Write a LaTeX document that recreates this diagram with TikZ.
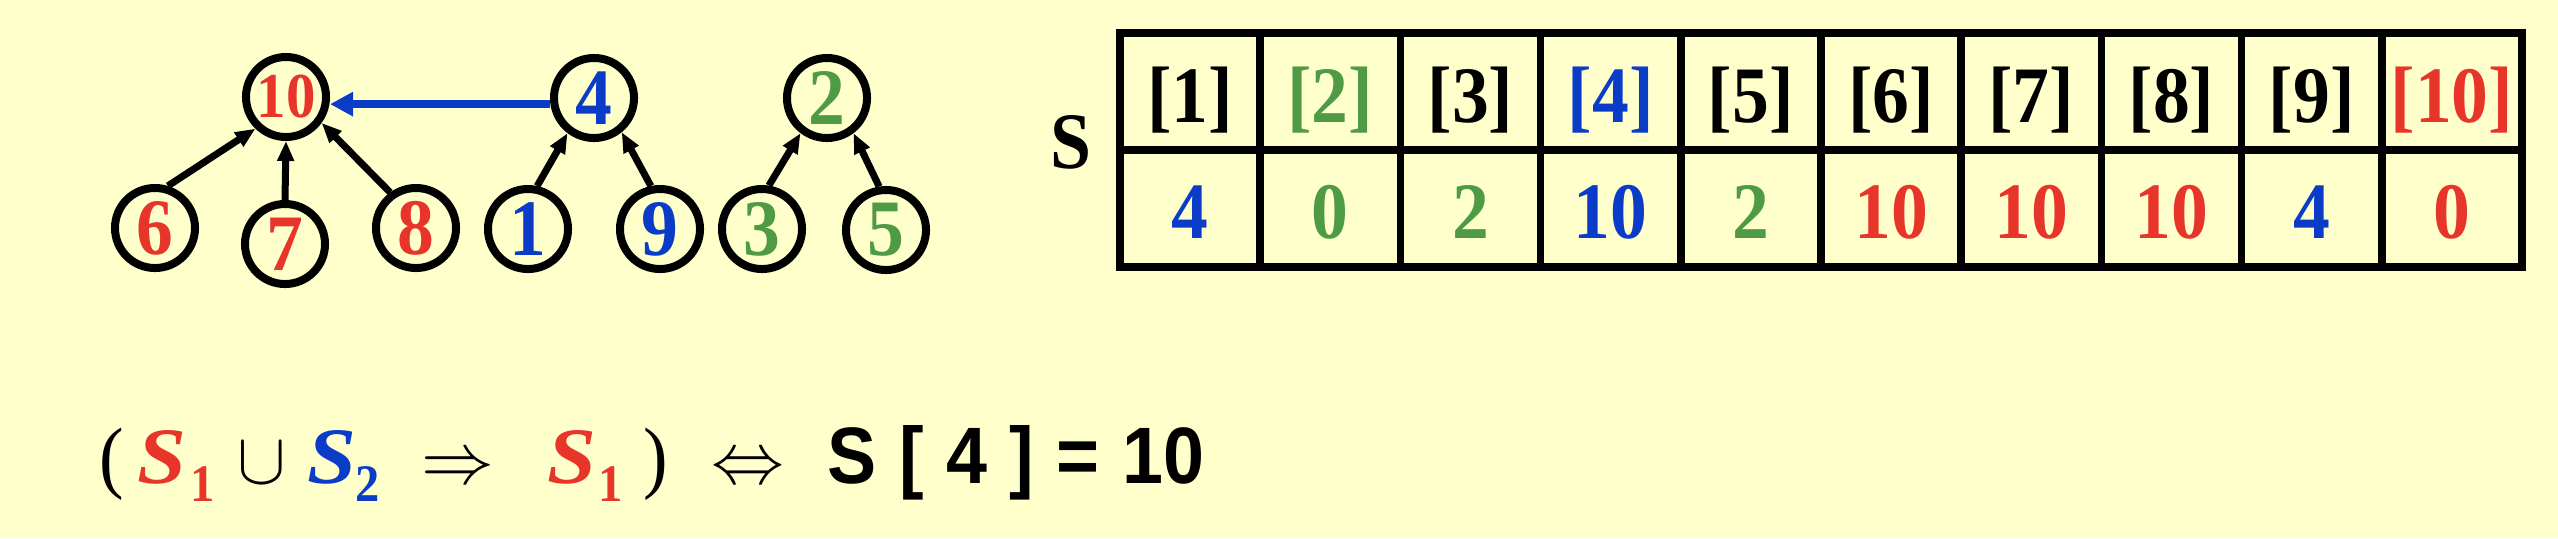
\documentclass[tikz,border=0pt]{standalone}
\usepackage{fontspec}
\setmainfont[FakeStretch=0.92]{Liberation Serif}
\setsansfont[FakeStretch=0.92, WordSpace=1.1]{Liberation Sans}
\newfontfamily\wideserif[FakeStretch=1.1]{Liberation Serif}
\usetikzlibrary{arrows.meta}
\definecolor{bg}{HTML}{FFFFCC}
\definecolor{myred}{HTML}{E8352A}
\definecolor{myblue}{HTML}{0A3CC8}
\definecolor{mygreen}{HTML}{4F9A44}
\newcommand\bigfont{\fontsize{22.76}{27}\selectfont}
\newcommand\subfont{\fontsize{15}{18}\selectfont}
\begin{document}
\begin{tikzpicture}[x=0.01cm,y=-0.01cm,
  tnode/.style={circle, draw, line width=0.08cm, minimum size=0.8cm, inner sep=0pt, font=\bigfont\bfseries},
  tedge/.style={line width=0.07cm, -{Triangle[length=0.2cm,width=0.16cm]}},
  merge/.style={myblue, line width=0.08cm, -{Triangle[length=0.23cm,width=0.23cm]}},
  cell/.style={inner sep=0pt, anchor=base, font=\bigfont\bfseries},
  grid/.style={line width=0.075cm},
  ftext/.style={inner sep=0pt, anchor=base west, font=\bigfont},
  setname/.style={ftext, font=\bigfont\wideserif\bfseries\itshape},
  subidx/.style={ftext, font=\subfont\bfseries}
]
\useasboundingbox (0,0) rectangle (2558,538);
\fill[bg] (0,0) rectangle (2558,538);

% trees
\node[tnode, text=myred, font=\fontsize{18.2}{22}\selectfont\bfseries] (n10) at (286,97) {10};
\node[tnode, text=myblue] (n4) at (594,98) {4};
\node[tnode, text=mygreen] (n2) at (827,98) {2};
\node[tnode, text=myred] (n6) at (155,228) {6};
\node[tnode, text=myred] (n7) at (285,244) {7};
\node[tnode, text=myred] (n8) at (416,228) {8};
\node[tnode, text=myblue] (n1) at (528,229) {1};
\node[tnode, text=myblue] (n9) at (660,229) {9};
\node[tnode, text=mygreen] (n3) at (762,229) {3};
\node[tnode, text=mygreen] (n5) at (886,230) {5};

\draw[tedge] (n6.73) -- (n10.226);
\draw[tedge] (n7.north) -- (n10.south);
\draw[tedge] (n8.126) -- (n10.-36);
\draw[tedge] (n1.78) -- (n4.233);
\draw[tedge] (n9.102) -- (n4.309);
\draw[tedge] (n3.81) -- (n2.233);
\draw[tedge] (n5.99) -- (n2.307);
\draw[merge] (n4.188) -- (n10.east |- n4.188);

% table
\node[cell] (slabel) at (1071,168) {S};
\draw[grid] (1120,33) rectangle (2522,267);
\draw[grid] (1120,150) -- (2522,150);
\foreach \i in {1,...,9} {
  \draw[grid] ({1120+\i*140.2},33) -- ({1120+\i*140.2},267);
}
\foreach \i/\c/\v/\vc in {1/black/4/myblue, 2/mygreen/0/mygreen, 3/black/2/mygreen, 4/myblue/10/myblue, 5/black/2/mygreen, 6/black/10/myred, 7/black/10/myred, 8/black/10/myred, 9/black/4/myblue, 10/myred/0/myred} {
  \node[cell, text=\c] (h\i) at ({1120+(\i-0.5)*140.2},122) {[\i]};
  \node[cell, text=\vc] (v\i) at ({1120+(\i-0.5)*140.2},238) {\v};
}

% formula
\node[ftext] (lp) at (99,483) {(};
\node[setname, text=myred] (s1a) at (137,483) {S};
\node[subidx, text=myred] (s1asub) at (190,501) {1};
\node[inner sep=0pt, anchor=base, font=\bigfont] (cup) at (262,483) {$\cup$};
\node[setname, text=myblue] (s2) at (307,483) {S};
\node[subidx, text=myblue] (s2sub) at (355,501) {2};
\node[inner sep=0pt, anchor=base, font=\bigfont] (imp) at (458,483) {$\Rightarrow$};
\node[setname, text=myred] (s1b) at (547,483) {S};
\node[subidx, text=myred] (s1bsub) at (598,501) {1};
\node[ftext] (rp) at (643,483) {)};
\node[inner sep=0pt, anchor=base, font=\bigfont] (iff) at (748,483) {$\Leftrightarrow$};
\node[ftext, font=\bigfont\sffamily\bfseries] (res) at (827,483) {S [ 4 ] = 10};
\end{tikzpicture}
\end{document}
